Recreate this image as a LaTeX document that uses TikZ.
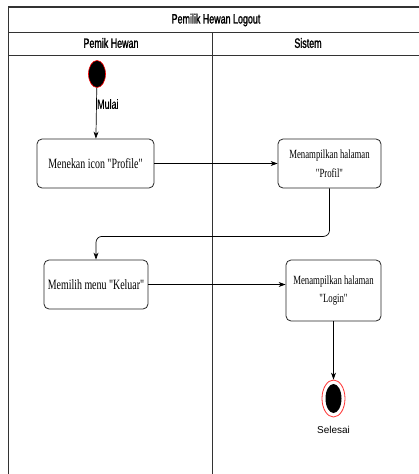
\documentclass[tikz,border=0pt]{standalone}
\usepackage{fontspec}
\usetikzlibrary{arrows.meta,shapes.geometric}
\newfontfamily\lanefont[FakeStretch=0.66,FakeBold=1.4]{Liberation Sans}
\newfontfamily\labelfont[FakeStretch=0.66,FakeBold=0.6]{Liberation Sans}
\newfontfamily\boxfont[FakeStretch=0.7]{Liberation Serif}
\begin{document}
\begin{tikzpicture}[x=1pt,y=-1pt,
	lane/.style={line width=0.9pt,draw=black!80},
	activity/.style={draw=black!85,line width=0.8pt,rounded corners=5pt,align=center,inner sep=0pt,font=\boxfont\fontsize{14.2}{18}\selectfont},
	activitysmall/.style={activity,font=\boxfont\fontsize{12.5}{18.5}\selectfont},
	flow/.style={line width=0.7pt,-{Stealth[length=7pt,width=5pt]}},
	startnode/.style={ellipse,fill=black,draw=red,line width=0.6pt,minimum width=17pt,minimum height=27pt,inner sep=0pt}]
	\useasboundingbox (0,0) rectangle (419,474);
	\fill[white] (0,0) rectangle (419,474);
	\draw[lane,line width=1.2pt] (8,7) -- (425,7);
	\draw[lane] (8,32) -- (425,32);
	\draw[lane] (8,55) -- (425,55);
	\draw[lane] (8,7) -- (8,480);
	\draw[lane] (212,32) -- (212,480);
	\node[font=\lanefont\fontsize{13.5}{13.5}\selectfont] (title) at (216,20) {Pemilik Hewan Logout};
	\node[font=\lanefont\fontsize{13.5}{13.5}\selectfont] (laneA) at (111,43) {Pemik Hewan};
	\node[font=\lanefont\fontsize{13.5}{13.5}\selectfont] (laneB) at (308,43) {Sistem};
	\node[startnode] (mulai) at (97,74) {};
	\node[activity,minimum width=117pt,minimum height=49pt] (profile) at (95.5,163.5) {Menekan icon "Profile"};
	\node[activitysmall,minimum width=103pt,minimum height=49pt] (profil) at (329.5,163.5) {Menampilkan halaman\\"Profil"};
	\node[activity,minimum width=104pt,minimum height=49pt] (keluar) at (96,284.5) {Memilih menu "Keluar"};
	\node[activitysmall,minimum width=95pt,minimum height=61pt] (login) at (333.5,290.5) {Menampilkan halaman\\"Login"};
	\node[ellipse,draw=red!80,line width=0.8pt,minimum width=23pt,minimum height=37pt,inner sep=0pt] (selesai) at (333.5,398.5) {};
	\node[ellipse,fill=black,minimum width=16pt,minimum height=29pt,inner sep=0pt] (selesaiin) at (333.5,398.5) {};
	\node[font=\labelfont\fontsize{13.5}{13.5}\selectfont,anchor=west,inner sep=0pt] (mulailbl) at (97,104) {Mulai};
	\node[font=\fontspec{Liberation Sans}\fontsize{10}{10}\selectfont] (selesailbl) at (333.5,430) {Selesai};
	\draw[flow] (mulai) -- (profile);
	\draw[flow] (profile) -- (profil);
	\draw[flow,rounded corners=6pt] (profil.south) -- ++(0,48) -| (keluar.north);
	\draw[flow] (keluar.east) -- (keluar.east -| login.west);
	\draw[flow] (login) -- (selesai);
\end{tikzpicture}
\end{document}
